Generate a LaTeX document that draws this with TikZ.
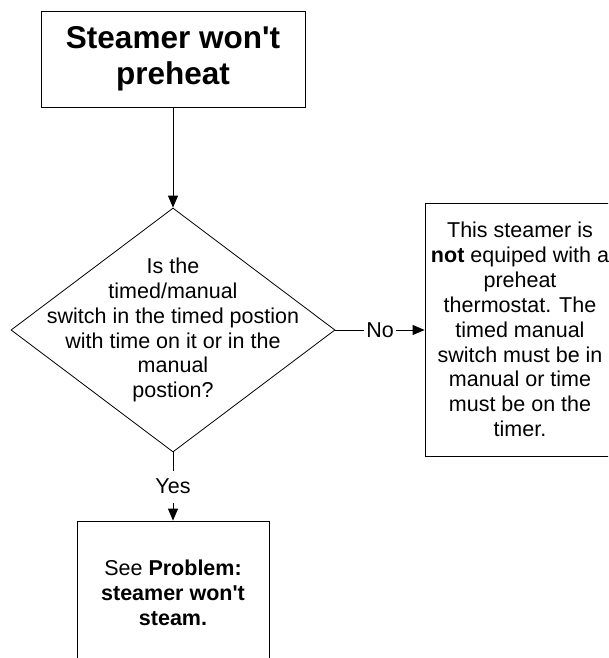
\documentclass[tikz,border=0pt]{standalone}
\usepackage{fontspec}
\setmainfont{Liberation Sans}
\usetikzlibrary{shapes.geometric,arrows.meta}
\newcommand\apos{\textquotesingle}
\begin{document}
\begin{tikzpicture}[x=1pt,y=-1pt,
  box/.style={draw, line width=0.8pt, inner sep=0pt, align=center,
    font={\fontsize{21.5}{24.9}\selectfont}},
  conn/.style={draw, line width=0.8pt, -{Triangle[length=12pt,width=10pt]}},
  lbl/.style={fill=white, inner sep=0pt, font={\fontsize{21.5}{24.9}\selectfont}}]
\useasboundingbox (0,0) rectangle (608,658);
\clip (0,0) rectangle (608,658);
\node[box, minimum width=264pt, minimum height=96pt,
  font={\fontsize{31.5}{36}\selectfont\bfseries}] (start) at (173,59)
  {Steamer won\apos t\\preheat};
\node[draw, diamond, line width=0.8pt, minimum width=324pt, minimum height=244pt,
  inner sep=0pt, aspect=1.33] (dec) at (173,330) {};
\node[align=center, font={\fontsize{21.5}{24.9}\selectfont}] (dectext) at (173,330)
  {Is the\\timed/manual\\switch in the timed postion\\with time on it or in the\\manual\\postion?};
\node[box, minimum width=190pt, minimum height=253pt] (note) at (520,329.5)
  {This steamer is\\\textbf{not} equiped with a\\preheat\\thermostat. The\\timed manual\\switch must be in\\manual or time\\must be on the\\timer.};
\node[box, minimum width=192pt, minimum height=144pt] (see) at (173,593)
  {See \textbf{Problem:}\\\textbf{steamer won\apos t}\\\textbf{steam.}};
\draw[conn] (start.south) -- (dec.north);
\draw[conn] (dec.east) -- node[lbl, minimum width=32pt, minimum height=20pt] {No} (dec.east -| note.west);
\draw[conn] (dec.south) -- node[lbl, minimum height=32pt, minimum width=30pt] {Yes} (see.north);
\end{tikzpicture}
\end{document}
